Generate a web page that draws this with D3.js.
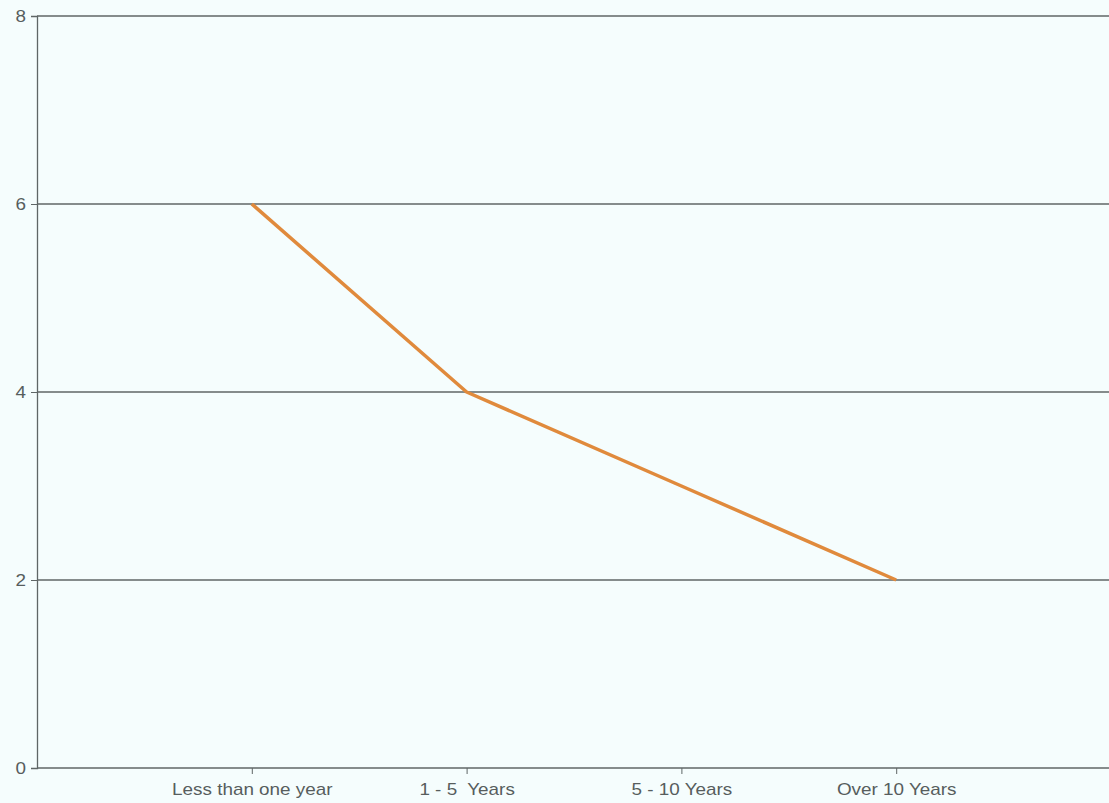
<!DOCTYPE html>
<html><head><meta charset="utf-8">
<script src="https://cdn.jsdelivr.net/npm/d3@7"></script>
<style>body{margin:0;background:#f5fdfd;}svg{display:block;}</style>
</head><body><svg id="c" width="1109" height="803"></svg>
<script>
const categories = ["Less than one year", "1 - 5  Years", "5 - 10 Years", "Over 10 Years"];
const values = [6, 4, 3, 2];
const yTicks = [0, 2, 4, 6, 8];

const W = 1109, H = 803;
const svg = d3.select("#c");
svg.append("rect").attr("width", W).attr("height", H).attr("fill", "#f5fdfd");

const x = d3.scalePoint().domain(categories).range([37, 1111]).padding(1);
const y = d3.scaleLinear().domain([0, 8]).range([768, 16]);

const gridColor = "#5f6666";
const textColor = "#575d5d";
const sx = 1.18;
const fs = 16;

// gridlines
svg.append("g").selectAll("line").data(yTicks.filter(d => d > 0)).join("line")
  .attr("x1", 37).attr("x2", W).attr("y1", d => y(d)).attr("y2", d => y(d))
  .attr("stroke", gridColor).attr("stroke-width", 1.3);

// y axis
const yAxis = svg.append("g").attr("transform", "translate(37,0)")
  .call(d3.axisLeft(y).tickValues(yTicks).tickSize(6).tickPadding(4).tickFormat(d3.format("d")));
yAxis.select(".domain").attr("stroke", gridColor).attr("stroke-width", 1.3);
yAxis.selectAll(".tick line").attr("stroke", gridColor);
yAxis.selectAll(".tick text").attr("fill", textColor).attr("font-size", fs)
  .attr("font-family", "Liberation Sans, Arial, sans-serif")
  .each(function(){
    const t = d3.select(this);
    t.attr("x", null).attr("transform", `translate(-11,0) scale(${sx},1)`);
  });

// x axis
const xAxis = svg.append("g").attr("transform", "translate(0,768)")
  .call(d3.axisBottom(x).tickSize(6).tickSizeOuter(0).tickPadding(8));
xAxis.select(".domain").attr("stroke", gridColor).attr("stroke-width", 1.3)
  .attr("d", `M37,0H${W}`);
xAxis.selectAll(".tick line").attr("stroke", gridColor);
xAxis.selectAll(".tick text").attr("fill", textColor).attr("font-size", fs)
  .attr("font-family", "Liberation Sans, Arial, sans-serif")
  .attr("y", null).attr("dy", null)
  .attr("transform", `translate(0,27) scale(${sx},1)`)
  .style("white-space", "pre");

// line
const line = d3.line().x((d, i) => x(categories[i])).y(d => y(d));
svg.append("path").datum(values).attr("d", line)
  .attr("fill", "none").attr("stroke", "#e08a3c").attr("stroke-width", 3.5)
  .attr("stroke-linejoin", "round");
</script>
</body></html>
